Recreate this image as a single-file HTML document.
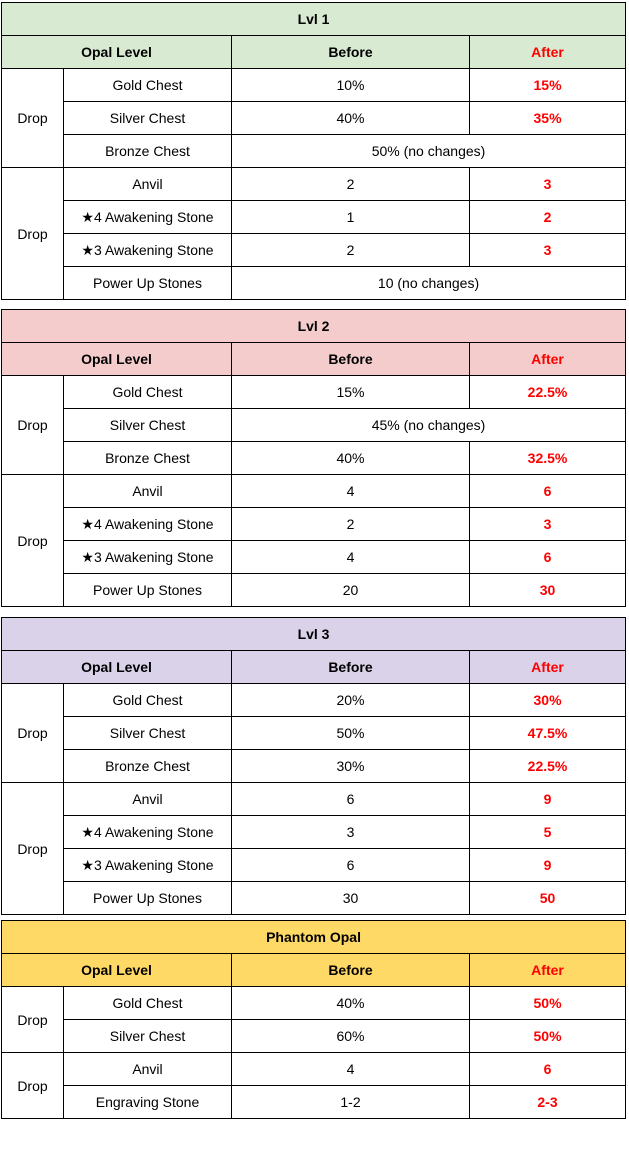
<!DOCTYPE html>
<html><head><meta charset="utf-8">
<style>
body{margin:0;width:629px;height:1155px;background:#fff;font-family:"Liberation Sans",Arial,sans-serif;font-size:14px;color:#000;position:relative;overflow:hidden}
table{position:absolute;left:1px;border-collapse:collapse;table-layout:fixed;width:624px}
td{border:1px solid #000;height:32px;padding:0;text-align:center;vertical-align:middle;white-space:nowrap}
.b{font-weight:bold}
.r{color:#ff0000;font-weight:bold}
.ra{color:#ff0000;font-weight:bold}
</style></head><body>

<table style="top:2px">
<colgroup><col style="width:62px"><col style="width:168px"><col style="width:238px"><col style="width:156px"></colgroup>
<tr style="background:#d9ead3"><td colspan="4" class="b">Lvl 1</td></tr>
<tr style="background:#d9ead3"><td colspan="2" class="b">Opal Level</td><td class="b">Before</td><td class="ra">After</td></tr>
<tr><td rowspan="3">Drop</td><td>Gold Chest</td><td>10%</td><td class="r">15%</td></tr>
<tr><td>Silver Chest</td><td>40%</td><td class="r">35%</td></tr>
<tr><td>Bronze Chest</td><td colspan="2">50% (no changes)</td></tr>
<tr><td rowspan="4">Drop</td><td>Anvil</td><td>2</td><td class="r">3</td></tr>
<tr><td>★4 Awakening Stone</td><td>1</td><td class="r">2</td></tr>
<tr><td>★3 Awakening Stone</td><td>2</td><td class="r">3</td></tr>
<tr><td>Power Up Stones</td><td colspan="2">10 (no changes)</td></tr>
</table>

<table style="top:309px">
<colgroup><col style="width:62px"><col style="width:168px"><col style="width:238px"><col style="width:156px"></colgroup>
<tr style="background:#f4cccc"><td colspan="4" class="b">Lvl 2</td></tr>
<tr style="background:#f4cccc"><td colspan="2" class="b">Opal Level</td><td class="b">Before</td><td class="ra">After</td></tr>
<tr><td rowspan="3">Drop</td><td>Gold Chest</td><td>15%</td><td class="r">22.5%</td></tr>
<tr><td>Silver Chest</td><td colspan="2">45% (no changes)</td></tr>
<tr><td>Bronze Chest</td><td>40%</td><td class="r">32.5%</td></tr>
<tr><td rowspan="4">Drop</td><td>Anvil</td><td>4</td><td class="r">6</td></tr>
<tr><td>★4 Awakening Stone</td><td>2</td><td class="r">3</td></tr>
<tr><td>★3 Awakening Stone</td><td>4</td><td class="r">6</td></tr>
<tr><td>Power Up Stones</td><td>20</td><td class="r">30</td></tr>
</table>

<table style="top:617px">
<colgroup><col style="width:62px"><col style="width:168px"><col style="width:238px"><col style="width:156px"></colgroup>
<tr style="background:#d9d2e9"><td colspan="4" class="b">Lvl 3</td></tr>
<tr style="background:#d9d2e9"><td colspan="2" class="b">Opal Level</td><td class="b">Before</td><td class="ra">After</td></tr>
<tr><td rowspan="3">Drop</td><td>Gold Chest</td><td>20%</td><td class="r">30%</td></tr>
<tr><td>Silver Chest</td><td>50%</td><td class="r">47.5%</td></tr>
<tr><td>Bronze Chest</td><td>30%</td><td class="r">22.5%</td></tr>
<tr><td rowspan="4">Drop</td><td>Anvil</td><td>6</td><td class="r">9</td></tr>
<tr><td>★4 Awakening Stone</td><td>3</td><td class="r">5</td></tr>
<tr><td>★3 Awakening Stone</td><td>6</td><td class="r">9</td></tr>
<tr><td>Power Up Stones</td><td>30</td><td class="r">50</td></tr>
</table>

<table style="top:920px">
<colgroup><col style="width:62px"><col style="width:168px"><col style="width:238px"><col style="width:156px"></colgroup>
<tr style="background:#ffd966"><td colspan="4" class="b">Phantom Opal</td></tr>
<tr style="background:#ffd966"><td colspan="2" class="b">Opal Level</td><td class="b">Before</td><td class="ra">After</td></tr>
<tr><td rowspan="2">Drop</td><td>Gold Chest</td><td>40%</td><td class="r">50%</td></tr>
<tr><td>Silver Chest</td><td>60%</td><td class="r">50%</td></tr>
<tr><td rowspan="2">Drop</td><td>Anvil</td><td>4</td><td class="r">6</td></tr>
<tr><td>Engraving Stone</td><td>1-2</td><td class="r">2-3</td></tr>
</table>

</body></html>
